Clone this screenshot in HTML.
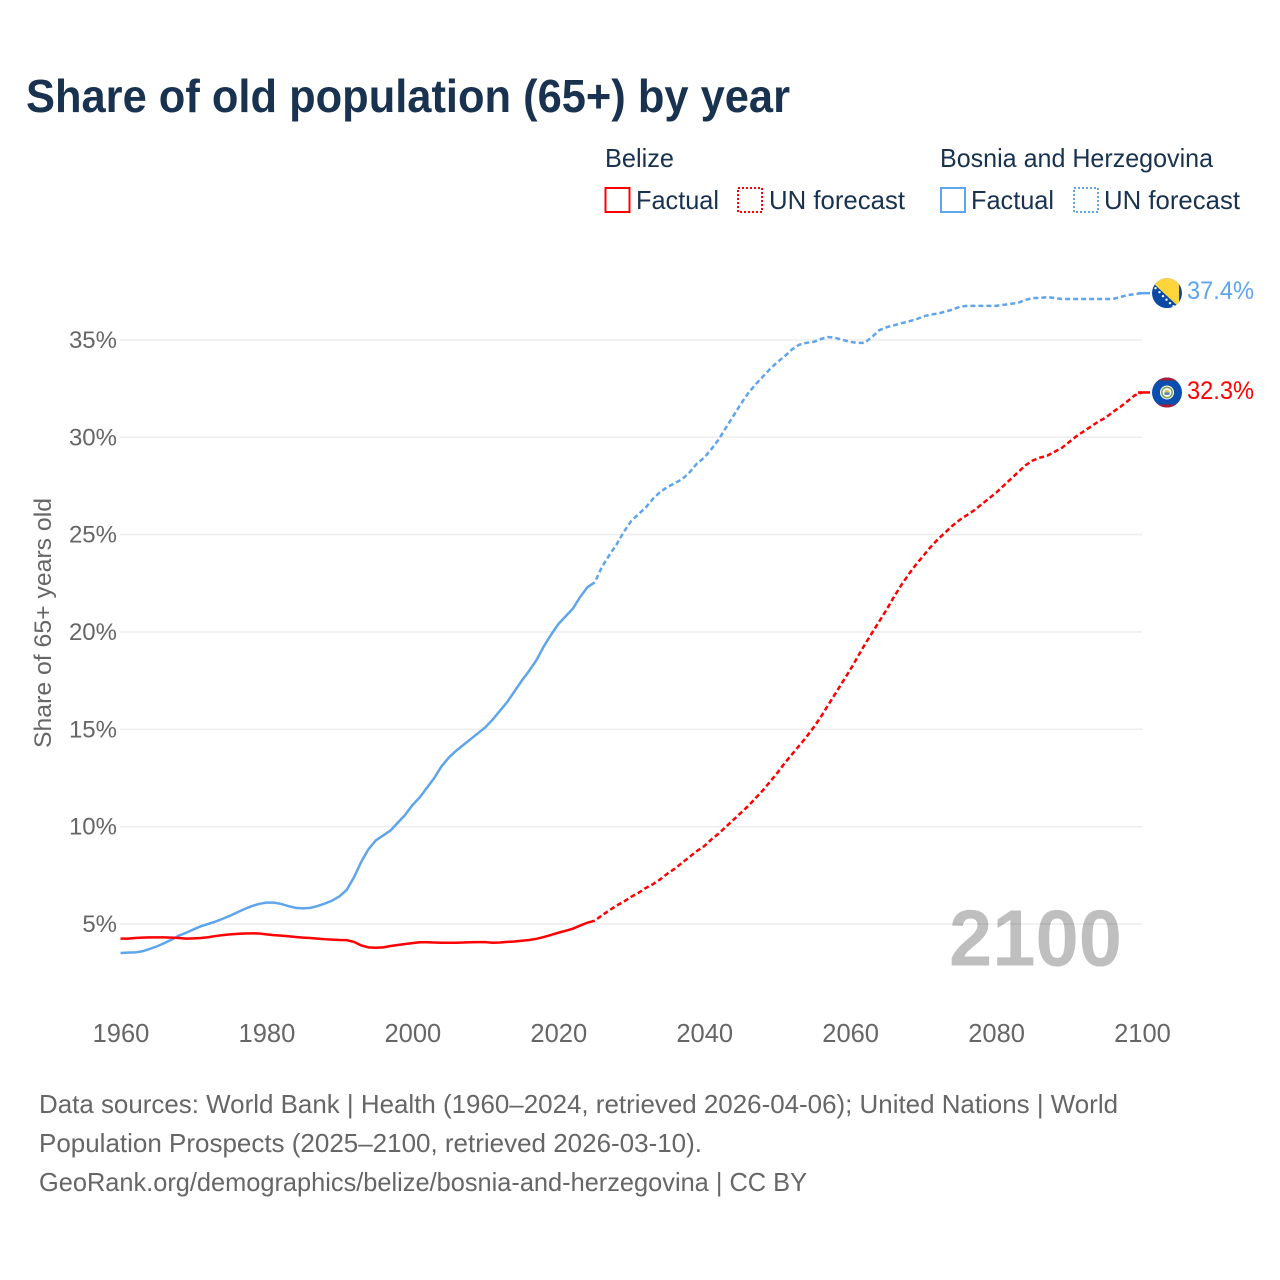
<!DOCTYPE html>
<html>
<head>
<meta charset="utf-8">
<title>Share of old population (65+) by year</title>
<style>
html,body{margin:0;padding:0;background:#fff;}
svg{display:block;}
text{font-family:"Liberation Sans",sans-serif;}
</style>
</head>
<body>
<svg id="chart" xmlns="http://www.w3.org/2000/svg" width="1280" height="1280" viewBox="0 0 1280 1280">
  <rect x="0" y="0" width="1280" height="1280" fill="#fff"/>
  <text x="26" y="112" font-size="46" font-weight="bold" fill="#18324f" textLength="764" lengthAdjust="spacingAndGlyphs">Share of old population (65+) by year</text>

  <g font-size="26" fill="#18324f">
    <text x="605" y="167" textLength="69" lengthAdjust="spacingAndGlyphs">Belize</text>
    <text x="940" y="167" textLength="273" lengthAdjust="spacingAndGlyphs">Bosnia and Herzegovina</text>
    <rect x="605.5" y="188" width="24" height="24" fill="none" stroke="#ff0000" stroke-width="2"/>
    <text x="636" y="209" textLength="83" lengthAdjust="spacingAndGlyphs">Factual</text>
    <rect x="738" y="188" width="24" height="24" fill="none" stroke="#ff0000" stroke-width="2" stroke-dasharray="2 2"/>
    <text x="769" y="209" textLength="136" lengthAdjust="spacingAndGlyphs">UN forecast</text>
    <rect x="941" y="188" width="24" height="24" fill="none" stroke="#5ea5ec" stroke-width="2"/>
    <text x="971" y="209" textLength="83" lengthAdjust="spacingAndGlyphs">Factual</text>
    <rect x="1074" y="188" width="24" height="24" fill="none" stroke="#5ea5ec" stroke-width="2" stroke-dasharray="2 2"/>
    <text x="1104" y="209" textLength="136" lengthAdjust="spacingAndGlyphs">UN forecast</text>
  </g>

  <g id="grid"></g>
  <g id="yticks"></g>
  <g id="xticks"></g>

  <text transform="translate(51,623) rotate(-90)" text-anchor="middle" font-size="24" fill="#666" textLength="250" lengthAdjust="spacingAndGlyphs">Share of 65+ years old</text>

  <text x="1122" y="965.5" text-anchor="end" font-size="80" font-weight="bold" fill="#000" fill-opacity="0.25" textLength="173" lengthAdjust="spacingAndGlyphs">2100</text>

  <g id="series"></g>
  <g id="ends"></g>

  <g font-size="26" fill="#666">
    <text x="39" y="1113" textLength="1079" lengthAdjust="spacingAndGlyphs">Data sources: World Bank | Health (1960–2024, retrieved 2026-04-06); United Nations | World</text>
    <text x="39" y="1152" textLength="663" lengthAdjust="spacingAndGlyphs">Population Prospects (2025–2100, retrieved 2026-03-10).</text>
    <text x="39" y="1191" textLength="768" lengthAdjust="spacingAndGlyphs">GeoRank.org/demographics/belize/bosnia-and-herzegovina | CC BY</text>
  </g>
</svg>
<script>
const yTickValues = [5, 10, 15, 20, 25, 30, 35];
const xTickValues = [1960, 1980, 2000, 2020, 2040, 2060, 2080, 2100];
const firstFactualYear = 1960;
const firstForecastYear = 2025;

const belizeFactual = [4.25,4.25,4.28,4.30,4.31,4.31,4.31,4.30,4.28,4.25,4.26,4.28,4.32,4.38,4.43,4.47,4.49,4.51,4.52,4.51,
  4.47,4.43,4.40,4.37,4.33,4.30,4.28,4.25,4.22,4.20,4.18,4.17,4.08,3.90,3.80,3.78,3.80,3.87,3.92,3.97,
  4.02,4.06,4.06,4.05,4.04,4.04,4.04,4.05,4.06,4.07,4.07,4.04,4.05,4.08,4.10,4.14,4.18,4.24,4.33,4.44,
  4.55,4.65,4.76,4.92,5.07,5.17];
const belizeForecast = [5.17,5.45,5.7,5.95,6.15,
  6.4,6.6,6.85,7.05,7.3,
  7.6,7.85,8.15,8.45,8.75,
  9.0,9.35,9.65,10.0,10.35,
  10.7,11.05,11.45,11.85,12.3,
  12.75,13.25,13.7,14.15,14.6,
  15.1,15.65,16.25,16.85,17.45,
  18.05,18.7,19.35,19.95,20.55,
  21.15,21.8,22.4,22.95,23.45,
  23.9,24.35,24.75,25.1,25.45,
  25.75,26.0,26.25,26.55,26.85,
  27.15,27.5,27.85,28.2,28.55,
  28.8,28.95,29.05,29.25,29.45,
  29.75,30.05,30.3,30.55,30.8,
  31.0,31.3,31.55,31.85,32.15,
  32.3];
const bosniaFactual = [3.51,3.53,3.54,3.6,3.72,3.85,4.02,4.2,4.4,4.55,4.72,4.88,5.0,5.12,5.27,5.42,5.6,5.77,5.92,6.03,
  6.1,6.1,6.03,5.92,5.83,5.8,5.83,5.92,6.05,6.2,6.42,6.75,7.4,8.2,8.85,9.3,9.55,9.8,10.2,10.6,
  11.1,11.5,12.0,12.5,13.1,13.55,13.9,14.2,14.5,14.8,15.1,15.5,15.95,16.4,16.95,17.5,18.0,18.55,19.25,19.85,
  20.4,20.8,21.2,21.8,22.3,22.55];
const bosniaForecast = [22.55,23.35,23.95,24.5,25.15,
  25.7,26.05,26.4,26.85,27.2,
  27.45,27.65,27.85,28.2,28.65,
  28.95,29.4,29.9,30.5,31.1,
  31.7,32.25,32.7,33.1,33.5,
  33.85,34.15,34.5,34.75,34.85,
  34.9,35.05,35.15,35.1,35.0,
  34.9,34.85,34.85,35.15,35.5,
  35.65,35.75,35.85,35.95,36.05,
  36.2,36.3,36.35,36.45,36.55,
  36.7,36.75,36.75,36.75,36.75,
  36.75,36.8,36.85,36.9,37.05,
  37.15,37.15,37.2,37.15,37.1,
  37.1,37.1,37.1,37.1,37.1,
  37.1,37.1,37.2,37.3,37.35,
  37.4];

const NS = 'http://www.w3.org/2000/svg';
const RED = '#ff0000';
const BLUE = '#5ea5ec';
const LINE_WIDTH = '2.5';
const DASH = '5 3';
const DASH_OFFSET = '5';

function xScale(year) { return 120.5 + (year - 1960) * (1142 - 120.5) / 140; }
function yScale(v) { return 924 - (v - 5) * 19.47; }

function buildPoints(values, startYear) {
  const pts = values.map(function (v, i) {
    return xScale(startYear + i).toFixed(2) + ',' + yScale(v).toFixed(2);
  });
  return pts.join(' ');
}

const grid = document.getElementById('grid');
const yticks = document.getElementById('yticks');
yTickValues.forEach(function (v) {
  const line = document.createElementNS(NS, 'line');
  
  
  line.setAttribute('x1', 120);
  line.setAttribute('x2', 1142);
  line.setAttribute('y1', yScale(v));
  line.setAttribute('y2', yScale(v));
  line.setAttribute('stroke', '#eeeeee');
  line.setAttribute('stroke-width', '1.6');
  grid.appendChild(line);

  const t = document.createElementNS(NS, 'text');
  
  
  t.setAttribute('x', 117);
  t.setAttribute('y', yScale(v) + 8);
  t.setAttribute('text-anchor', 'end');
  t.setAttribute('font-size', '24');
  t.setAttribute('fill', '#666');
  t.textContent = v + '%';
  yticks.appendChild(t);
});

const xticks = document.getElementById('xticks');
xTickValues.forEach(function (yr) {
  const t = document.createElementNS(NS, 'text');
  
  
  t.setAttribute('x', xScale(yr) + 0.5);
  t.setAttribute('y', 1042);
  t.setAttribute('text-anchor', 'middle');
  t.setAttribute('font-size', '25.5');
  t.setAttribute('fill', '#666');
  t.textContent = yr;
  xticks.appendChild(t);
});

const seriesGroup = document.getElementById('series');

const bosniaFactualLine = document.createElementNS(NS, 'polyline');


bosniaFactualLine.setAttribute('points', buildPoints(bosniaFactual, firstFactualYear));
bosniaFactualLine.setAttribute('fill', 'none');
bosniaFactualLine.setAttribute('stroke', BLUE);
bosniaFactualLine.setAttribute('stroke-width', LINE_WIDTH);
seriesGroup.appendChild(bosniaFactualLine);

const bosniaForecastLine = document.createElementNS(NS, 'polyline');


bosniaForecastLine.setAttribute('points', buildPoints(bosniaForecast, firstForecastYear));
bosniaForecastLine.setAttribute('fill', 'none');
bosniaForecastLine.setAttribute('stroke', BLUE);
bosniaForecastLine.setAttribute('stroke-width', LINE_WIDTH);
bosniaForecastLine.setAttribute('stroke-dasharray', DASH);
bosniaForecastLine.setAttribute('stroke-dashoffset', DASH_OFFSET);
seriesGroup.appendChild(bosniaForecastLine);

const belizeFactualLine = document.createElementNS(NS, 'polyline');


belizeFactualLine.setAttribute('points', buildPoints(belizeFactual, firstFactualYear));
belizeFactualLine.setAttribute('fill', 'none');
belizeFactualLine.setAttribute('stroke', RED);
belizeFactualLine.setAttribute('stroke-width', LINE_WIDTH);
seriesGroup.appendChild(belizeFactualLine);

const belizeForecastLine = document.createElementNS(NS, 'polyline');


belizeForecastLine.setAttribute('points', buildPoints(belizeForecast, firstForecastYear));
belizeForecastLine.setAttribute('fill', 'none');
belizeForecastLine.setAttribute('stroke', RED);
belizeForecastLine.setAttribute('stroke-width', LINE_WIDTH);
belizeForecastLine.setAttribute('stroke-dasharray', DASH);
belizeForecastLine.setAttribute('stroke-dashoffset', DASH_OFFSET);
seriesGroup.appendChild(belizeForecastLine);

const ends = document.getElementById('ends');
const bosniaEnd = bosniaForecast[bosniaForecast.length - 1];
const belizeEnd = belizeForecast[belizeForecast.length - 1];

const bosniaLeader = document.createElementNS(NS, 'line');


bosniaLeader.setAttribute('x1', xScale(2100) - 4);
bosniaLeader.setAttribute('x2', xScale(2100) + 8);
bosniaLeader.setAttribute('y1', yScale(bosniaEnd));
bosniaLeader.setAttribute('y2', yScale(bosniaEnd));
bosniaLeader.setAttribute('stroke', BLUE);
bosniaLeader.setAttribute('stroke-width', LINE_WIDTH);
ends.appendChild(bosniaLeader);

const belizeLeader = document.createElementNS(NS, 'line');


belizeLeader.setAttribute('x1', xScale(2100) - 4);
belizeLeader.setAttribute('x2', xScale(2100) + 8);
belizeLeader.setAttribute('y1', yScale(belizeEnd));
belizeLeader.setAttribute('y2', yScale(belizeEnd));
belizeLeader.setAttribute('stroke', RED);
belizeLeader.setAttribute('stroke-width', LINE_WIDTH);
ends.appendChild(belizeLeader);

const bosniaFlag = document.createElementNS(NS, 'g');


bosniaFlag.setAttribute('transform', 'translate(1167,' + yScale(bosniaEnd) + ')');
bosniaFlag.innerHTML = '<defs><clipPath id="clipA"><circle r="15"/></clipPath></defs>' +
  '<g clip-path="url(#clipA)"><rect x="-15" y="-15" width="30" height="30" fill="#0b49a5"/>' +
  '<polygon points="-15,-11 -15,-15 12,-15 12,14" fill="#fed53d"/>' +
  '<g fill="#fff"><circle cx="-11.5" cy="-5" r="1.2"/><circle cx="-7.5" cy="-1" r="1.2"/><circle cx="-4" cy="3" r="1.2"/><circle cx="-0.5" cy="6.5" r="1.2"/><circle cx="3" cy="10" r="1.2"/><circle cx="6.5" cy="13" r="1.2"/></g></g>';
ends.appendChild(bosniaFlag);

const belizeFlag = document.createElementNS(NS, 'g');


belizeFlag.setAttribute('transform', 'translate(1167,' + yScale(belizeEnd) + ')');
belizeFlag.innerHTML = '<defs><clipPath id="clipB"><circle r="15"/></clipPath></defs>' +
  '<g clip-path="url(#clipB)"><rect x="-15" y="-15" width="30" height="30" fill="#0a4eb0"/>' +
  '<rect x="-15" y="-15" width="30" height="3" fill="#a81c34"/><rect x="-15" y="12" width="30" height="3" fill="#a81c34"/>' +
  '<circle r="7" fill="#fff"/><circle r="5.2" fill="none" stroke="#7da65a" stroke-width="1.6"/><circle r="2.6" fill="#d9c25a"/><rect x="-2.6" y="0" width="5.2" height="2.2" fill="#4a7fb8"/></g>';
ends.appendChild(belizeFlag);

const bosniaValue = document.createElementNS(NS, 'text');


bosniaValue.setAttribute('x', 1187);
bosniaValue.setAttribute('y', yScale(bosniaEnd) + 6);
bosniaValue.setAttribute('font-size', '25');
bosniaValue.setAttribute('fill', BLUE);
bosniaValue.setAttribute('textLength', '67');
bosniaValue.setAttribute('lengthAdjust', 'spacingAndGlyphs');
bosniaValue.textContent = bosniaEnd.toFixed(1) + '%';
ends.appendChild(bosniaValue);

const belizeValue = document.createElementNS(NS, 'text');


belizeValue.setAttribute('x', 1187);
belizeValue.setAttribute('y', yScale(belizeEnd) + 6.5);
belizeValue.setAttribute('font-size', '25');
belizeValue.setAttribute('fill', RED);
belizeValue.setAttribute('textLength', '67');
belizeValue.setAttribute('lengthAdjust', 'spacingAndGlyphs');
belizeValue.textContent = belizeEnd.toFixed(1) + '%';
ends.appendChild(belizeValue);
</script>
</body>
</html>
